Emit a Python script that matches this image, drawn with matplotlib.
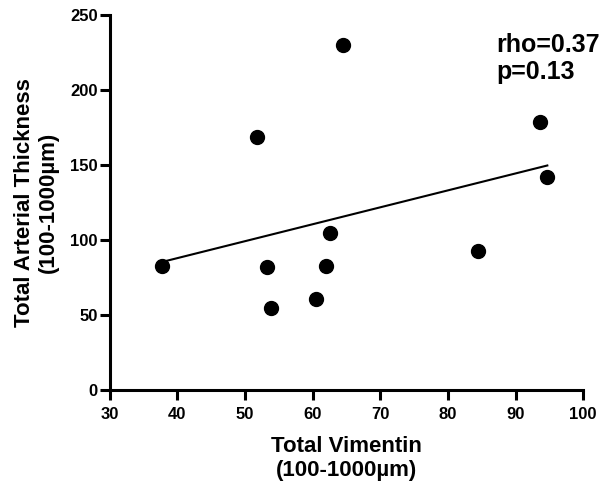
import matplotlib

matplotlib.use("Agg")
import matplotlib.pyplot as plt
import numpy as np

# Vimentin vs arterial thickness, one point per subject
vimentin = [37.7, 51.7, 53.2, 53.8, 60.5, 62.0, 62.5, 64.5, 84.4, 93.6, 94.7]
thickness = [83, 169, 82, 55, 61, 83, 105, 230, 93, 179, 142]
stats_text = "rho=0.37\np=0.13"

x_ticks = [30, 40, 50, 60, 70, 80, 90, 100]
y_ticks = [0, 50, 100, 150, 200, 250]

plt.rcParams["font.family"] = ["Liberation Sans", "DejaVu Sans"]
plt.rcParams["font.weight"] = "bold"

figure = plt.figure(figsize=(6.1, 4.94), dpi=100)
axis = figure.add_axes([0.180, 0.2105, 0.776, 0.759])

axis.plot(vimentin, thickness, "o", color="black", markersize=10, clip_on=False, zorder=3)

# least-squares fit across the observed range
slope, intercept = np.polyfit(vimentin, thickness, 1)
fit_x = np.array([min(vimentin), max(vimentin)])
axis.plot(fit_x, slope * fit_x + intercept, color="black", linewidth=1.5)

axis.set_xlim(30, 100)
axis.set_ylim(0, 250)
axis.set_xticks(x_ticks)
axis.set_yticks(y_ticks)

for side in ("top", "right"):
    axis.spines[side].set_visible(False)
for side in ("left", "bottom"):
    axis.spines[side].set_linewidth(2.2)

axis.tick_params(width=2.2, length=7, labelsize=12)
axis.tick_params(axis="x", pad=5)
axis.tick_params(axis="y", pad=1.5)
for label in axis.get_xticklabels() + axis.get_yticklabels():
    label.set_fontweight("bold")

axis.set_xlabel("Total Vimentin\n(100-1000\u00b5m)", fontsize=16, fontweight="bold", labelpad=10)
axis.set_ylabel("Total Arterial Thickness\n(100-1000\u00b5m)", fontsize=16, fontweight="bold", labelpad=8)

axis.text(87.2, 238, stats_text, fontsize=18, fontweight="bold", va="top", ha="left", linespacing=1.13)

figure.savefig("out.png", dpi=100)
plt.close(figure)
